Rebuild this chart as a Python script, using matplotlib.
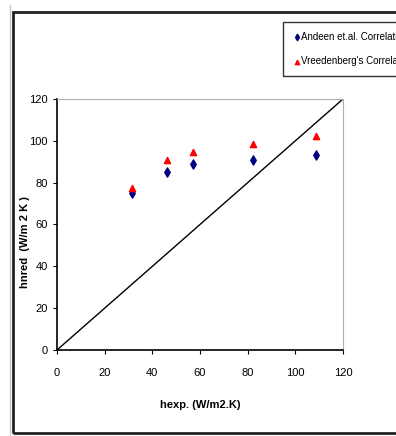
import matplotlib
matplotlib.use('Agg')
import matplotlib.pyplot as plt
from matplotlib.patches import Rectangle
from matplotlib.lines import Line2D

plt.rcParams['font.family'] = ['Liberation Sans Narrow', 'Liberation Sans', 'DejaVu Sans']

# Dane
h_exp = [31.6, 46.2, 56.9, 82.1, 108.7]
h_andeen = [74.9, 85.2, 88.8, 90.8, 93.4]
h_vreedenberg = [77.3, 90.8, 94.8, 98.5, 102.3]
ticks = [0, 20, 40, 60, 80, 100, 120]

fig = plt.figure(figsize=(3.96, 4.36), dpi=100)
ax = fig.add_axes([57 / 396, 86 / 436, 286 / 396, 251 / 436])

ax.plot([0, 120], [0, 120], color='black', lw=1)
ax.scatter(h_exp, h_andeen, marker='d', s=22, color='#000080', label='Andeen et.al. Correlation', zorder=3)
ax.scatter(h_exp, h_vreedenberg, marker='^', s=20, color='#ff0000', label="Vreedenberg's Correlation", zorder=3)

ax.set_xlim(0, 120)
ax.set_ylim(0, 120)
ax.set_xticks(ticks)
ax.set_yticks(ticks)
ax.tick_params(labelsize=8, length=3, width=0.8, direction='out')
ax.tick_params(axis='x', pad=10)
for s in ['top', 'right']:
    ax.spines[s].set_color('#b0b0b0')
for s in ['left', 'bottom']:
    ax.spines[s].set_linewidth(1.2)

ax.set_xlabel('hexp. (W/m2.K)', fontsize=8, fontweight='bold', labelpad=16)
ax.set_ylabel('hnred  (W/m 2 K )', fontsize=8, fontweight='bold')
ax.yaxis.set_label_coords(-0.094, 0.43)

fig.legend(loc='upper left', bbox_to_anchor=(283 / 396, 1 - 22 / 436), fontsize=7,
           frameon=True, fancybox=False, edgecolor='black', borderaxespad=0,
           handletextpad=0.1, handlelength=0.8, labelspacing=1.5, borderpad=1.0,
           markerscale=0.7)

# ramka dookoła
fig.add_artist(Rectangle((13 / 396, 3 / 436), 1.0, 1 - 15 / 436, transform=fig.transFigure,
                         fill=False, edgecolor='#222222', lw=2))
fig.add_artist(Line2D([10 / 396, 10 / 396], [0, 1 - 5 / 436], transform=fig.transFigure,
                      color='#c8c8c8', lw=1))

fig.savefig('out.png', dpi=100)
